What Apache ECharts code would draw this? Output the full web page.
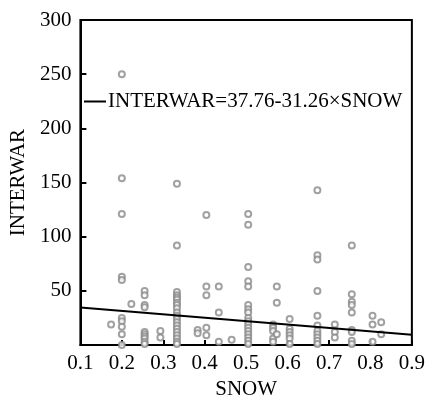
<!DOCTYPE html>
<html>
<head>
    <meta charset="utf-8">
    <title>INTERWAR vs SNOW</title>
    <script src="https://cdn.jsdelivr.net/npm/echarts@6/dist/echarts.min.js"></script>
</head>
<body style="margin:0">
    <div id="main" style="width: 428px;height:405px;"></div>
    <script type="text/javascript">
        // SNOW value of each column of points, and the INTERWAR values in that column
        var snowCols = [0.174, 0.2, 0.223, 0.255, 0.293, 0.333, 0.383, 0.404, 0.434, 0.465,
                        0.505, 0.565, 0.574, 0.605, 0.672, 0.714, 0.755, 0.805, 0.826];
        var interwarCols = [
            [19],
            [250, 154, 121, 63, 60, 25, 22, 17, 10, 0],
            [38],
            [50, 46, 37, 35, 12, 10, 8, 6, 3, 1],
            [13, 7],
            [149, 92, 49, 46, 44, 42, 39, 37, 34, 30, 27, 24, 21, 18, 15, 12, 9, 6, 3, 1],
            [14, 11],
            [120, 54, 46, 16, 9],
            [54, 30, 3],
            [5],
            [121, 111, 72, 59, 54, 37, 33, 30, 25, 22, 19, 16, 13, 10, 7, 4, 1],
            [19, 16, 13, 6, 3],
            [54, 39, 10],
            [24, 15, 12, 9, 6, 1],
            [143, 83, 79, 50, 27, 18, 13, 10, 7, 4, 1],
            [19, 12, 7],
            [92, 47, 40, 37, 30, 14, 12, 4, 1],
            [27, 19, 3],
            [21, 10]
        ];
        // fitted line INTERWAR = 37.76 - 31.26 x SNOW, end points
        var fitX = [0.1, 0.9];
        var fitY = [34.6, 9.6];
        var fitName = 'INTERWAR=37.76-31.26×SNOW';

        var points = [];
        snowCols.forEach(function (x, i) {
            interwarCols[i].forEach(function (y) {
                points.push([x, y]);
            });
        });
        var fit = fitX.map(function (x, i) { return [x, fitY[i]]; });

        var font = 'Liberation Serif';
        var myChart = echarts.init(document.getElementById('main'));
        var option = {
            animation: false,
            textStyle: {fontFamily: font},
            grid: {
                left: 77, right: 15, top: 20, bottom: 52,
                show: true, borderColor: '#000', borderWidth: 2
            },
            legend: {
                data: [fitName],
                left: 79, top: 86,
                icon: 'rect',
                itemWidth: 22, itemHeight: 2,
                itemGap: 0,
                textStyle: {fontFamily: font, fontSize: 21, color: '#000', padding: [0, 0, 0, -3]}
            },
            xAxis: {
                type: 'value',
                min: 0.1, max: 0.9, interval: 0.1,
                name: 'SNOW',
                nameLocation: 'middle',
                nameGap: 27,
                nameTextStyle: {fontFamily: font, fontSize: 21, color: '#000'},
                axisLine: {lineStyle: {color: '#000', width: 2}},
                axisTick: {inside: true, length: 5, lineStyle: {color: '#000', width: 2}},
                axisLabel: {
                    fontFamily: font, fontSize: 21, color: '#000', margin: 8,
                    formatter: function (v) { return v.toFixed(1); }
                },
                splitLine: {show: false}
            },
            yAxis: {
                type: 'value',
                min: 0, max: 300, interval: 50,
                name: 'INTERWAR',
                nameLocation: 'middle',
                nameGap: 48,
                nameTextStyle: {fontFamily: font, fontSize: 21, color: '#000'},
                axisLine: {lineStyle: {color: '#000', width: 2}},
                axisTick: {inside: true, length: 6, lineStyle: {color: '#000', width: 2}},
                axisLabel: {
                    fontFamily: font, fontSize: 21, color: '#000', margin: 9,
                    showMinLabel: false
                },
                splitLine: {show: false}
            },
            series: [{
                type: 'scatter',
                data: points,
                symbol: 'emptyCircle',
                symbolSize: 6,
                itemStyle: {color: '#8a8a8a', borderColor: '#8a8a8a', borderWidth: 1.6},
                z: 2
            }, {
                name: fitName,
                type: 'line',
                data: fit,
                symbol: 'none',
                lineStyle: {color: '#000', width: 2},
                itemStyle: {color: '#000'},
                z: 3
            }]
        };
        myChart.setOption(option);
    </script>
</body>
</html>
